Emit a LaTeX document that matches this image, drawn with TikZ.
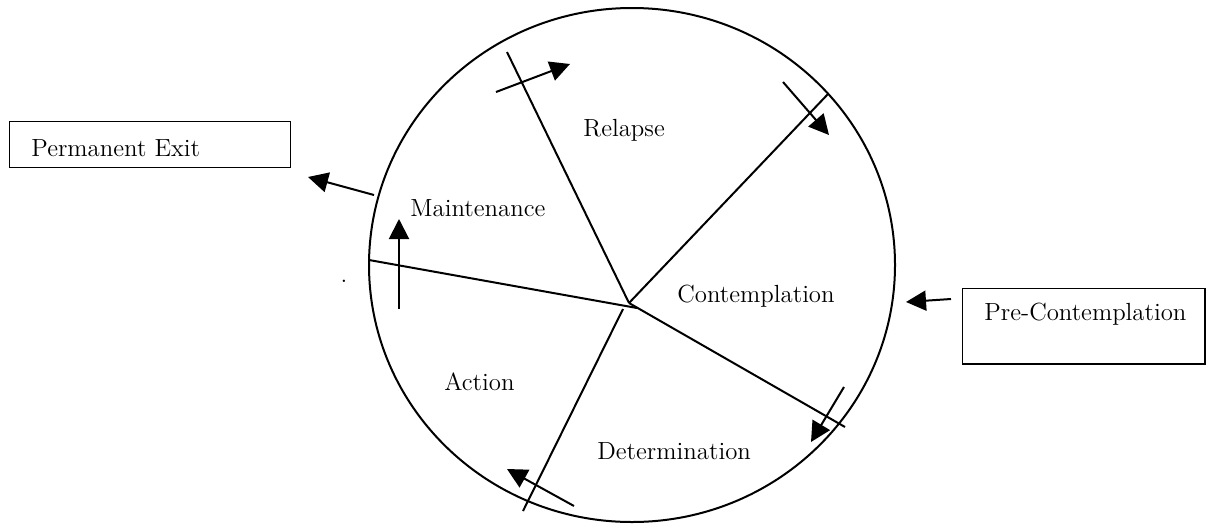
\documentclass[tikz,border=0pt]{standalone}
\usetikzlibrary{arrows.meta}
\begin{document}
\begin{tikzpicture}[x=0.5pt,y=-0.5pt,
  every node/.style={font=\fontsize{12.4}{14}\selectfont},
  ring/.style={draw=black,line width=1pt},
  divider/.style={draw=black,line width=1pt},
  flow/.style={draw=black,line width=1pt,-{Triangle[length=10pt,width=10pt]}},
  stagebox/.style={draw=black,line width=0.75pt,rectangle,inner sep=0pt},
  txt/.style={inner sep=0pt,anchor=base west}]
\useasboundingbox (0,0) rectangle (1215,525);
% circle
\draw[ring] (632,265) ellipse [x radius=263, y radius=257];
% hub and sector ends
\coordinate (hubA) at (629,303);
\coordinate (hubB) at (623,309);
\coordinate (hubC) at (637,308);
\coordinate (e1) at (507,52);
\coordinate (e2) at (828,94);
\coordinate (e3) at (845,427);
\coordinate (e4) at (523,511);
\coordinate (e5) at (369,260);
\draw[divider] (hubA) -- (e1);
\draw[divider] (hubA) -- (e2);
\draw[divider] (hubA) -- (e3);
\draw[divider] (hubB) -- (e4);
\draw[divider] (hubC) -- (e5);
% stage labels
\node[txt] (relapse) at (583,136) {Relapse};
\node[txt] (maint) at (410,216) {Maintenance};
\node[txt] (contemp) at (677,302) {Contemplation};
\node[txt] (action) at (444,390) {Action};
\node[txt] (determ) at (597,459) {Determination};
% boxes
\node[stagebox,minimum width=140.7pt,minimum height=23pt] (exitbox) at (150,144.7) {};
\node[txt] (exittxt) at (31,156) {Permanent Exit};
\node[stagebox,minimum width=121.2pt,minimum height=37.9pt] (prebox) at (1083.9,326.2) {};
\node[txt] (pretxt) at (984,320.7) {Pre-Contemplation};
% stray dot
\node[inner sep=0pt,anchor=base] (dot) at (344,282.2) {.};
% arrows
\coordinate (a1s) at (496,92);  \coordinate (a1t) at (570,64);
\coordinate (a2s) at (783,82);  \coordinate (a2t) at (829,135);
\coordinate (a3s) at (844,387); \coordinate (a3t) at (811,442);
\coordinate (a4s) at (574,506); \coordinate (a4t) at (507,469);
\coordinate (a5s) at (399,309); \coordinate (a5t) at (399,219);
\coordinate (a6s) at (374,195); \coordinate (a6t) at (308,177);
\coordinate (a7s) at (951,299); \coordinate (a7t) at (906,302);
\draw[flow] (a1s) -- (a1t);
\draw[flow] (a2s) -- (a2t);
\draw[flow] (a3s) -- (a3t);
\draw[flow] (a4s) -- (a4t);
\draw[flow] (a5s) -- (a5t);
\draw[flow] (a6s) -- (a6t);
\draw[flow] (a7s) -- (a7t);
\end{tikzpicture}
\end{document}
